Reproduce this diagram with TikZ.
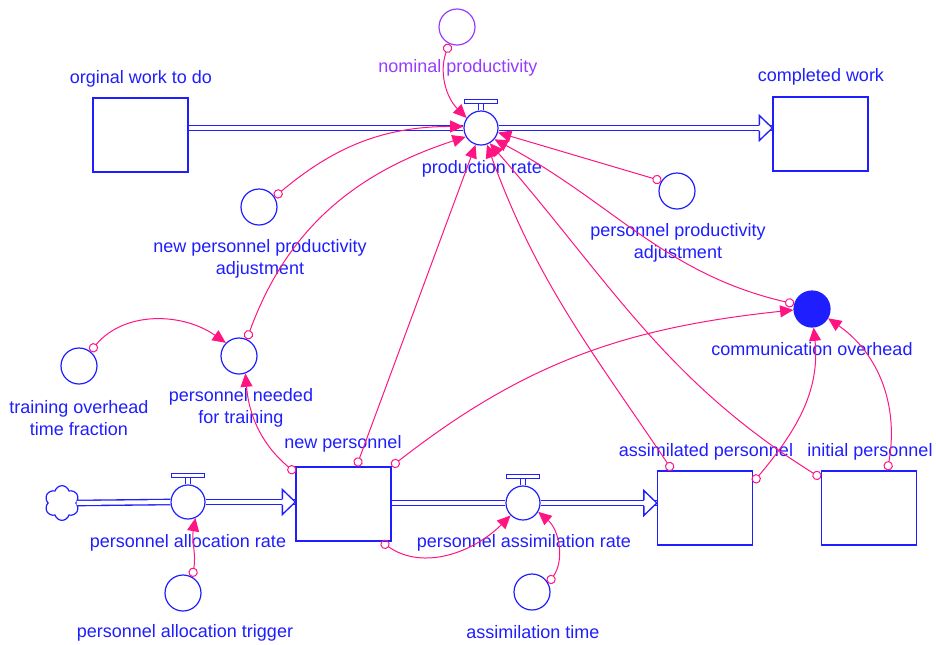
\documentclass[tikz,border=0pt]{standalone}
\usepackage{fontspec}
\setmainfont{Liberation Sans}
\usepackage{tikz}
\tikzset{every picture/.style={line width=0.75pt}}
\usetikzlibrary{arrows.meta}
\usetikzlibrary{shapes.symbols}

\definecolor{stockblue}{RGB}{30,30,255}
\definecolor{linkpink}{RGB}{255,20,130}
\definecolor{constpurple}{RGB}{150,60,255}

\tikzset{
  stock/.style={draw=stockblue, line width=1pt, rectangle, minimum width=71.25pt, minimum height=55.5pt, inner sep=0pt},
  aux/.style={draw=stockblue, line width=0.9pt, circle, minimum size=27pt, inner sep=0pt},
  valve/.style={draw=stockblue, line width=0.9pt, fill=white, circle, minimum size=25.5pt, inner sep=0pt},
  pipe/.style={draw=stockblue, line width=1pt, double=white, double distance=3pt},
  link/.style={draw=linkpink, {Circle[open,length=7pt,width=7pt]}-{Triangle[length=10pt,width=9pt]}},
  lbl/.style={text=stockblue, inner sep=0pt, align=center, font=\fontsize{13.5}{17}\selectfont},
  pics/valvetop/.style={code={
    \draw[stockblue, line width=0.9pt] (-2.5,0) -- (-2.5,7) (2.5,0) -- (2.5,7);
    \draw[stockblue, line width=0.9pt, fill=white] (-16.5,7) rectangle (16.5,11);}},
  pics/pipehead/.style={code={
    \filldraw[draw=stockblue, line width=1pt, fill=white] (-13,-3) -- (-13,-12.5) -- (0,0) -- (-13,12.5) -- (-13,3);}}
}

\begin{document}
\begin{tikzpicture}[x=0.75pt,y=0.75pt,yscale=-1,xscale=1]
\useasboundingbox (0,0) rectangle (936,644);

%Stocks
\node[stock] (orig) at (140.5,135) {};
\node[stock] (done) at (820.5,134) {};
\node[stock] (newp) at (343.5,504) {};
\node[stock] (assim) at (705,508) {};
\node[stock] (initp) at (869,508) {};

%Cloud
\node[cloud, cloud puffs=6, aspect=1, draw=stockblue, line width=0.9pt, minimum size=26pt, inner sep=0pt] (source) at (62,503) {};

%Valves
\node[valve] (prodrate) at (481,128) {};
\pic at (prodrate.north) {valvetop};
\node[valve] (allocrate) at (188,502) {};
\pic at (allocrate.north) {valvetop};
\node[valve] (assimrate) at (523,503) {};
\pic at (assimrate.north) {valvetop};

%Pipes
\draw[pipe] (orig.east |- prodrate.west) -- (prodrate.west);
\draw[pipe] (prodrate.east) -- (done.west |- prodrate.east);
\pic at (done.west |- prodrate.east) {pipehead};
\draw[pipe] (source.east) -- (allocrate.west);
\draw[pipe] (allocrate.east) -- (newp.west |- allocrate.east);
\pic at (newp.west |- allocrate.east) {pipehead};
\draw[pipe] (newp.east |- assimrate.west) -- (assimrate.west);
\draw[pipe] (assimrate.east) -- (assim.west |- assimrate.east);
\pic at (assim.west |- assimrate.east) {pipehead};

%Auxiliaries
\node[aux, draw=constpurple] (nomprod) at (457,27) {};
\node[aux] (npa) at (259,207) {};
\node[aux] (ppa) at (677,191) {};
\node[aux] (tof) at (79,366) {};
\node[aux] (pnt) at (239,356) {};
\node[aux, fill=stockblue] (comm) at (812,309) {};
\node[aux] (pat) at (183,593) {};
\node[aux] (asstime) at (532,592) {};

% Text Node
\node[lbl] (origlbl) at (141,79) {orginal work to do};
\node[lbl] (donelbl) at (821,77) {completed work};
\node[lbl] (newplbl) at (343,444) {new personnel};
\node[lbl] (assimlbl) at (706,452) {assimilated personnel};
\node[lbl] (initplbl) at (870,452) {initial personnel};
\node[lbl] (prodratelbl) at (482,169) {production rate};
\node[lbl] (allocratelbl) at (188,543) {personnel allocation rate};
\node[lbl] (assimratelbl) at (524,543) {personnel assimilation rate};
\node[lbl, text=constpurple] (nomprodlbl) at (458,68) {nominal productivity};
\node[lbl] (npalbl) at (260,259) {new personnel productivity\\adjustment};
\node[lbl] (ppalbl) at (678,243) {personnel productivity\\adjustment};
\node[lbl] (toflbl) at (79,418) {training overhead\\time fraction};
\node[lbl] (pntlbl) at (241,408) {personnel needed\\for training};
\node[lbl] (commlbl) at (812,349) {communication overhead};
\node[lbl] (patlbl) at (185,633) {personnel allocation trigger};
\node[lbl] (asstimelbl) at (533,632) {assimilation time};

%Connectors
\draw[link] (nomprod.245) to[out=110,in=225] (prodrate.145);
\draw[link] (npa.33) to[out=-40,in=180] (prodrate.175);
\draw[link] (pnt.65) to[out=-70,in=162] (prodrate.210);
\draw[link] (newp.71) -- (prodrate.252);
\draw[link] (assim.131) to[out=236,in=70] (prodrate.290);
\draw[link] (initp.148) to[out=212,in=49] (prodrate.300);
\draw[link] (comm.164) to[out=193,in=28] (prodrate.320);
\draw[link] (ppa.147) -- (prodrate.345);
\draw[link] (newp.north east) to[out=-38,in=174] (comm.183);
\draw[link] (assim.28) to[out=-50,in=84] (comm.275);
\draw[link] (initp.64) to[out=-80,in=35] (comm.330);
\draw[link] (tof.52) to[out=-50,in=215] (pnt.135);
\draw[link] (newp.147) to[out=220,in=85] (pnt.290);
\draw[link] (pat.60) to[out=-80,in=100] (allocrate.295);
\draw[link] (newp.315) to[out=35,in=135] (assimrate.225);
\draw[link] (asstime.28) to[out=-55,in=41] (assimrate.330);
\end{tikzpicture}
\end{document}
